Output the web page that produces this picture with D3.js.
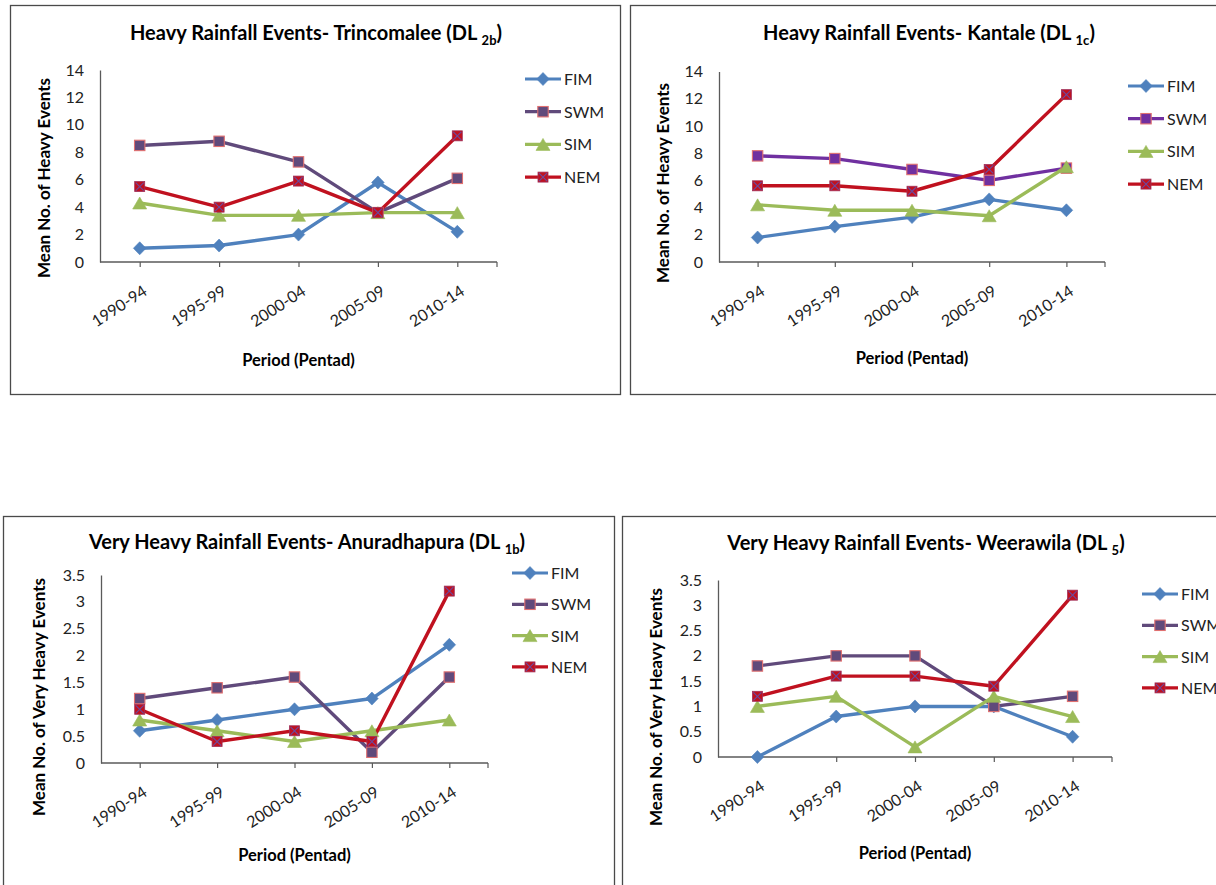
<!DOCTYPE html>
<html><head><meta charset="utf-8">
<script src="https://cdn.jsdelivr.net/npm/d3@7/dist/d3.min.js"></script>
<style>
html,body{margin:0;padding:0;background:#fff;}
svg{display:block;font-family:Lato,"Open Sans",sans-serif;}
</style></head>
<body><svg id="chart" width="1216" height="885"></svg>
<script>
// ---------- DATA ----------
const categories = ["1990-94","1995-99","2000-04","2005-09","2010-14"];
const seriesNames = ["FIM","SWM","SIM","NEM"];

// Heavy Rainfall Events - Trincomalee (DL 2b)
const trincomaleeFIM = [1.0, 1.2, 2.0, 5.8, 2.2];
const trincomaleeSWM = [8.5, 8.8, 7.3, 3.6, 6.1];
const trincomaleeSIM = [4.3, 3.4, 3.4, 3.6, 3.6];
const trincomaleeNEM = [5.5, 4.0, 5.9, 3.6, 9.2];

// Heavy Rainfall Events - Kantale (DL 1c)
const kantaleFIM = [1.8, 2.6, 3.3, 4.6, 3.8];
const kantaleSWM = [7.8, 7.6, 6.8, 6.0, 6.9];
const kantaleSIM = [4.2, 3.8, 3.8, 3.4, 7.0];
const kantaleNEM = [5.6, 5.6, 5.2, 6.8, 12.3];

// Very Heavy Rainfall Events - Anuradhapura (DL 1b)
const anuradhapuraFIM = [0.6, 0.8, 1.0, 1.2, 2.2];
const anuradhapuraSWM = [1.2, 1.4, 1.6, 0.2, 1.6];
const anuradhapuraSIM = [0.8, 0.6, 0.4, 0.6, 0.8];
const anuradhapuraNEM = [1.0, 0.4, 0.6, 0.4, 3.2];

// Very Heavy Rainfall Events - Weerawila (DL 5)
const weerawilaFIM = [0.0, 0.8, 1.0, 1.0, 0.4];
const weerawilaSWM = [1.8, 2.0, 2.0, 1.0, 1.2];
const weerawilaSIM = [1.0, 1.2, 0.2, 1.2, 0.8];
const weerawilaNEM = [1.2, 1.6, 1.6, 1.4, 3.2];

const heavyTicks = [0, 2, 4, 6, 8, 10, 12, 14];
const veryHeavyTicks = [0, 0.5, 1, 1.5, 2, 2.5, 3, 3.5];
const heavyTickLabels = ["0","2","4","6","8","10","12","14"];
const veryHeavyTickLabels = ["0","0.5","1","1.5","2","2.5","3","3.5"];

// ---------- LAYOUT / STYLE ----------
const panels = [
  {title:"Heavy Rainfall Events- Trincomalee (DL ", sub:"2b", titleEnd:")",
   series:[trincomaleeFIM,trincomaleeSWM,trincomaleeSIM,trincomaleeNEM],
   ticks:heavyTicks, tickLabels:heavyTickLabels, ymax:14, ytitle:"Mean No. of Heavy Events",
   box:[10,5,610,389], x0:100, x1:497, yb:262, yt:70, titleX:316, titleY:40, ytitleX:50, ytitleY:178,
   legX:525, legY:79, legStep:32.7, swm:"#604A7B", xtitleDy:104},
  {title:"Heavy Rainfall Events- Kantale (DL ", sub:"1c", titleEnd:")",
   series:[kantaleFIM,kantaleSWM,kantaleSIM,kantaleNEM],
   ticks:heavyTicks, tickLabels:heavyTickLabels, ymax:14, ytitle:"Mean No. of Heavy Events",
   box:[630,5,600,389], x0:719, x1:1105, yb:262, yt:71.5, titleX:929, titleY:40, ytitleX:669, ytitleY:183,
   legX:1128, legY:86, legStep:32.7, swm:"#7030A0", xtitleDy:102},
  {title:"Very Heavy Rainfall Events- Anuradhapura (DL ", sub:"1b", titleEnd:")",
   series:[anuradhapuraFIM,anuradhapuraSWM,anuradhapuraSIM,anuradhapuraNEM],
   ticks:veryHeavyTicks, tickLabels:veryHeavyTickLabels, ymax:3.5, ytitle:"Mean No. of Very Heavy Events",
   box:[3,516,611,390], x0:101, x1:488, yb:763, yt:575, titleX:307, titleY:549, ytitleX:45, ytitleY:697,
   legX:512, legY:573, legStep:31.3, swm:"#604A7B", xtitleDy:98},
  {title:"Very Heavy Rainfall Events- Weerawila (DL ", sub:"5", titleEnd:")",
   series:[weerawilaFIM,weerawilaSWM,weerawilaSIM,weerawilaNEM],
   ticks:veryHeavyTicks, tickLabels:veryHeavyTickLabels, ymax:3.5, ytitle:"Mean No. of Very Heavy Events",
   box:[622,516,620,390], x0:718, x1:1112, yb:757, yt:580, titleX:926, titleY:550, ytitleX:662, ytitleY:707,
   legX:1142, legY:594, legStep:31.3, swm:"#604A7B", xtitleDy:102}
];

const FIM_C = "#4F81BD", SIM_C = "#9BBB59", NEM_C = "#C0111F";
const svg = d3.select("#chart");

function marker(g, name, x, y, p) {
  if (name === "FIM") {
    g.append("path").attr("d", `M${x},${y-6.5}L${x+6.3},${y}L${x},${y+6.5}L${x-6.3},${y}Z`)
      .attr("fill", FIM_C).attr("stroke", FIM_C).attr("stroke-width", 0.6);
  } else if (name === "SWM") {
    g.append("rect").attr("x", x-5.2).attr("y", y-5.2).attr("width", 10.4).attr("height", 10.4)
      .attr("fill", p.swm).attr("stroke", "#E07070").attr("stroke-width", 1.1);
  } else if (name === "SIM") {
    g.append("path").attr("d", `M${x},${y-6}L${x+7},${y+6}L${x-7},${y+6}Z`)
      .attr("fill", SIM_C).attr("stroke", SIM_C).attr("stroke-width", 0.6);
  } else {
    g.append("rect").attr("x", x-5).attr("y", y-5).attr("width", 10).attr("height", 10)
      .attr("fill", NEM_C).attr("stroke", "#A0305A").attr("stroke-width", 0.8);
    g.append("path").attr("d", `M${x-4},${y-4}L${x+4},${y+4}M${x+4},${y-4}L${x-4},${y+4}`)
      .attr("stroke", "#6A4AA0").attr("stroke-width", 1.1);
  }
}

const colors = p => [FIM_C, p.swm, SIM_C, NEM_C];

panels.forEach(p => {
  const g = svg.append("g");
  g.append("rect").attr("x", p.box[0]+0.5).attr("y", p.box[1]+0.5).attr("width", p.box[2]).attr("height", p.box[3])
    .attr("fill", "#fff").attr("stroke", "#4a4a4a").attr("stroke-width", 1.3);

  const x = d3.scalePoint().domain(categories).range([p.x0, p.x1]).padding(0.5);
  const y = d3.scaleLinear().domain([0, p.ymax]).range([p.yb, p.yt]);

  // y axis
  const ya = g.append("g").attr("transform", `translate(${p.x0},0)`)
    .call(d3.axisLeft(y).tickValues(p.ticks).tickFormat((d,i) => p.tickLabels[i]).tickSize(0).tickPadding(16));
  ya.select(".domain").attr("stroke", "#5a5a5a").attr("stroke-width", 1.3);
  ya.selectAll("text").attr("font-size", 16).attr("fill", "#222").attr("font-family", "Lato");

  // x axis
  const xa = g.append("g").attr("transform", `translate(0,${p.yb})`)
    .call(d3.axisBottom(x).tickSize(5).tickSizeOuter(0));
  xa.select(".domain").attr("d", `M${p.x0},0H${p.x1}`).attr("stroke", "#5a5a5a").attr("stroke-width", 1.3);
  xa.selectAll("line").attr("stroke", "#5a5a5a").attr("stroke-width", 1.2);
  xa.append("line").attr("x1", p.x1).attr("x2", p.x1).attr("y1", 0).attr("y2", 5).attr("stroke", "#5a5a5a").attr("stroke-width", 1.2);
  xa.selectAll(".tick text").attr("font-size", 16).attr("fill", "#222").attr("font-family", "Lato")
    .attr("text-anchor", "end").attr("dy", null).attr("y", 0)
    .attr("transform", "translate(8,32) rotate(-33)");

  // lines and markers
  p.series.forEach((vals, si) => {
    const line = d3.line().x((d,i) => x(categories[i])).y(d => y(d));
    g.append("path").datum(vals).attr("d", line).attr("fill", "none")
      .attr("stroke", colors(p)[si]).attr("stroke-width", 3.4).attr("stroke-linejoin", "round");
  });
  p.series.forEach((vals, si) => {
    vals.forEach((v, i) => marker(g, seriesNames[si], x(categories[i]), y(v), p));
  });

  // title
  const t = g.append("text").attr("x", p.titleX).attr("y", p.titleY).attr("text-anchor", "middle")
    .attr("font-size", 20).attr("font-weight", "bold").attr("fill", "#000");
  t.append("tspan").text(p.title);
  t.append("tspan").text(p.sub).attr("font-size", 13).attr("dy", 5);
  t.append("tspan").text(p.titleEnd).attr("dy", -5);

  // y title
  g.append("text").attr("transform", `translate(${p.ytitleX},${p.ytitleY}) rotate(-90)`)
    .attr("text-anchor", "middle").attr("font-size", 17).attr("font-weight", "bold").attr("fill", "#000")
    .text(p.ytitle);

  // x title
  g.append("text").attr("x", (p.x0+p.x1)/2).attr("y", p.yb + p.xtitleDy).attr("text-anchor", "middle")
    .attr("font-size", 16.5).attr("font-weight", "bold").attr("fill", "#000").text("Period (Pentad)");

  // legend
  seriesNames.forEach((name, si) => {
    const ly = p.legY + si*p.legStep;
    g.append("line").attr("x1", p.legX).attr("x2", p.legX+36).attr("y1", ly).attr("y2", ly)
      .attr("stroke", colors(p)[si]).attr("stroke-width", 3.2);
    marker(g, name, p.legX+18, ly, p);
    g.append("text").attr("x", p.legX+39).attr("y", ly+6).attr("font-size", 16).attr("fill", "#222").text(name);
  });
});
</script></body></html>
